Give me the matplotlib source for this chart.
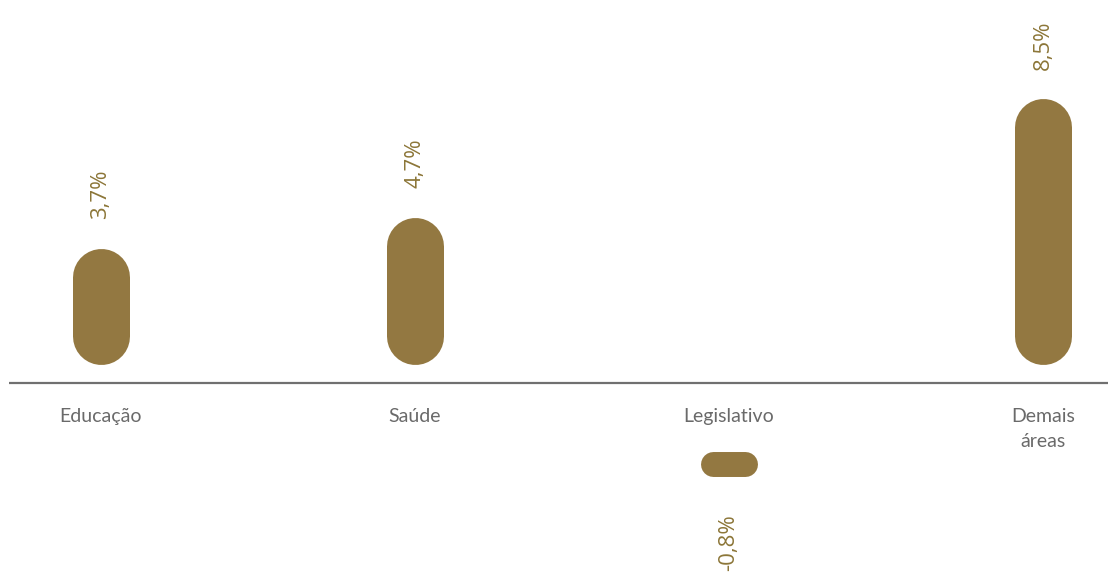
import matplotlib
matplotlib.use("Agg")
import matplotlib.pyplot as plt

categories = ["Educação", "Saúde", "Legislativo", "Demais\náreas"]
values = [3.7, 4.7, -0.8, 8.5]
value_labels = ["3,7%", "4,7%", "-0,8%", "8,5%"]

BAR_COLOR = "#937841"
TEXT_GOLD = "#8C7638"
TEXT_GRAY = "#6A6A6A"

W, H, DPI = 1108, 572, 100
fig = plt.figure(figsize=(W / DPI, H / DPI), dpi=DPI)
ax = fig.add_axes([0, 0, 1, 1])

# pixels per data unit on each axis
px_x = 314.0          # category spacing
px_y = 31.2           # per percentage point
pt_per_px = 72 / DPI
x_left = -101 / px_x
x_right = 3 + (W - 1043) / px_x
ax.set_xlim(x_left, x_right)
ax.set_ylim(-(H - 383) / px_y, 383 / px_y)
ax.axis("off")

bar_px = 57                      # pill thickness in pixels
pos_gap = 19 / px_y              # space between baseline and positive pills
neg_gap = 69 / px_y              # space left for labels above negative pills

for i, v in enumerate(values):
    h = abs(v)
    y0 = pos_gap if v >= 0 else -neg_gap - h
    h_px = h * px_y
    if h_px >= bar_px:
        # vertical pill: round-capped stroke, caps add half the width at each end
        r = bar_px / 2 / px_y
        ax.plot([i, i], [y0 + r, y0 + h - r], color=BAR_COLOR,
                lw=bar_px * pt_per_px, solid_capstyle="round")
    else:
        # short value: horizontal pill whose thickness is the value itself
        r = h_px / 2 / px_x
        half = bar_px / 2 / px_x
        ax.plot([i - half + r, i + half - r], [y0 + h / 2] * 2, color=BAR_COLOR,
                lw=h_px * pt_per_px, solid_capstyle="round")
    if v >= 0:
        ax.annotate(value_labels[i], (i, y0 + h), xytext=(0, 21),
                    textcoords="offset points", rotation=90,
                    ha="center", va="bottom", color=TEXT_GOLD,
                    fontsize=16, family="Open Sans")
    else:
        ax.annotate(value_labels[i], (i, y0), xytext=(0, -27),
                    textcoords="offset points", rotation=90,
                    ha="center", va="top", color=TEXT_GOLD,
                    fontsize=16, family="Open Sans")

# baseline
ax.plot([x_left + 9 / px_x, x_right], [0, 0], color="#707070", lw=1.6,
        solid_capstyle="butt")

for i, c in enumerate(categories):
    ax.text(i, -25 / px_y, c, ha="center", va="top",
            color=TEXT_GRAY, fontsize=14, family="Lato",
            linespacing=1.6)

fig.savefig("out.png", dpi=DPI)
